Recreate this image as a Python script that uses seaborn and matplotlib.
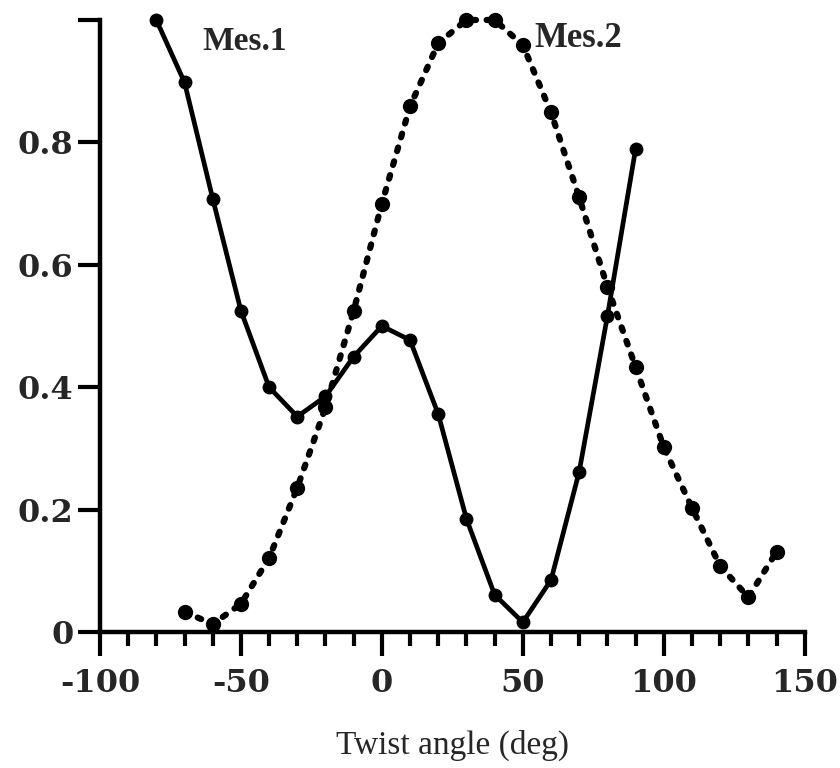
import matplotlib
matplotlib.use("Agg")
import matplotlib.pyplot as plt
import seaborn as sns
import pandas as pd
from matplotlib.ticker import MultipleLocator

# Data
mes1_x = [-80, -70, -60, -50, -40, -30, -20, -10, 0, 10, 20, 30, 40, 50, 60, 70, 80, 90]
mes1_y = [1.0, 0.898, 0.708, 0.525, 0.40, 0.352, 0.385, 0.45, 0.50, 0.477, 0.356, 0.185,
          0.061, 0.016, 0.085, 0.262, 0.516, 0.789]
mes2_x = [-70, -60, -50, -40, -30, -20, -10, 0, 10, 20, 30, 40, 50, 60, 70, 80, 90, 100,
          110, 120, 130, 140]
mes2_y = [0.033, 0.013, 0.046, 0.121, 0.236, 0.367, 0.525, 0.70, 0.859, 0.962, 1.0, 1.0,
          0.959, 0.849, 0.71, 0.564, 0.433, 0.302, 0.203, 0.108, 0.057, 0.131]
xticks = [-100, -50, 0, 50, 100, 150]
yticks = [0, 0.2, 0.4, 0.6, 0.8, 1.0]
ytick_labels = ["0", "0.2", "0.4", "0.6", "0.8", ""]
xlabel = "Twist angle (deg)"
series_labels = ["Mes.1", "Mes.2"]

sns.set_style("ticks")
plt.rcParams['font.family'] = ['DejaVu Serif', 'DejaVu Sans']

fig = plt.figure(figsize=(8.4, 7.68), dpi=100)
ax = fig.add_axes([0.119, 0.177, 0.839, 0.797])

df1 = pd.DataFrame({"x": mes1_x, "y": mes1_y})
df2 = pd.DataFrame({"x": mes2_x, "y": mes2_y})

sns.lineplot(data=df1, x="x", y="y", ax=ax, color="black", linewidth=3.4,
             marker="o", markersize=10, markeredgewidth=0, clip_on=False)
sns.lineplot(data=df2, x="x", y="y", ax=ax, color="black", linewidth=4.5,
             linestyle=(0, (0.6, 1.7)), dash_capstyle="round",
             marker="o", markersize=11, markeredgewidth=0, clip_on=False)

ax.set_xlim(-100, 150)
ax.set_ylim(0, 1.0)
ax.set_xticks(xticks)
ax.set_xticklabels([str(t) for t in xticks])
ax.xaxis.set_minor_locator(MultipleLocator(10))
ax.set_yticks(yticks)
ax.set_yticklabels(ytick_labels)

for lab in ax.get_xticklabels() + ax.get_yticklabels():
    lab.set_fontfamily('DejaVu Serif')
    lab.set_fontweight('bold')
    lab.set_fontsize(23)

ax.tick_params(axis='x', which='major', length=17, width=3, direction='out',
               color='black', pad=9)
ax.tick_params(axis='y', which='major', length=16, width=3, direction='out',
               color='black', pad=3)
ax.tick_params(axis='x', which='minor', length=10, width=3, direction='out', color='black')

sns.despine(ax=ax)
for s in ['left', 'bottom']:
    ax.spines[s].set_linewidth(3.2)
    ax.spines[s].set_color('black')

ax.set_xlabel(xlabel, fontfamily='Liberation Serif', fontsize=24, labelpad=22)
ax.set_ylabel("")

ax.text(-63.5, 0.965, series_labels[0], fontfamily='Liberation Serif', fontsize=24,
        fontweight='bold', va='center', ha='left')
ax.text(54, 0.97, series_labels[1], fontfamily='Liberation Serif', fontsize=25,
        fontweight='bold', va='center', ha='left')

fig.savefig("out.png", dpi=100, facecolor="white")
